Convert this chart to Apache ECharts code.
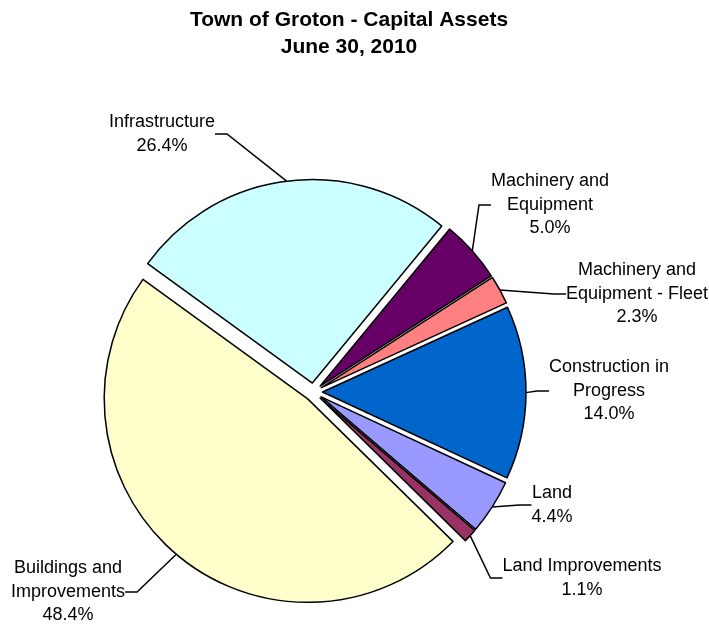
<!DOCTYPE html>
<html>
<head>
<meta charset="utf-8">
<script src="https://cdn.jsdelivr.net/npm/echarts@6/dist/echarts.min.js"></script>
<style>
  html, body { margin: 0; padding: 0; background: #fff; }
  #main { width: 709px; height: 626px; }
</style>
</head>
<body>
<div id="main"></div>
<script>
// slices in clockwise order
var categories = [
    'Machinery and\nEquipment',
    'Machinery and\nEquipment - Fleet',
    'Construction in\nProgress',
    'Land',
    'Land Improvements',
    'Buildings and\nImprovements',
    'Infrastructure'
];
var shares = [5.0, 2.3, 14.0, 4.4, 1.1, 48.4, 26.4];
var colors = ['#660066', '#ff8080', '#0066cc', '#9999ff', '#993366', '#ffffcc', '#ccffff'];

// label box centres (px), same order as categories
var labelPos = [
    [550, 205],
    [637, 294],
    [609, 391],
    [552, 505],
    [582, 578],
    [68, 592],
    [162, 134]
];

var FONT = '"Liberation Sans", Arial, sans-serif';
var CENTER = [313.5, 392];
var R = 203.5;
var EXPLODE = 9;
var START = 50.5;

var chart = echarts.init(document.getElementById('main'));

var sliceData = [];
var labelData = [];
for (var i = 0; i < categories.length; i++) {
    sliceData.push({
        name: categories[i],
        value: shares[i],
        selected: true,
        itemStyle: {color: colors[i]}
    });
    labelData.push({name: categories[i], value: shares[i]});
}

var option = {
    backgroundColor: '#fff',
    animation: false,
    title: {
        text: 'Town of Groton - Capital Assets\nJune 30, 2010',
        left: 349,
        top: 7,
        padding: 0,
        textAlign: 'center',
        textStyle: {
            color: '#000',
            fontFamily: FONT,
            fontSize: 21,
            fontWeight: 'bold',
            lineHeight: 27
        }
    },
    series: [{
        // exploded slices
        type: 'pie',
        center: CENTER,
        radius: R,
        startAngle: START,
        clockwise: true,
        selectedMode: 'multiple',
        selectedOffset: EXPLODE,
        itemStyle: {borderColor: '#000', borderWidth: 1.5},
        select: {itemStyle: {borderColor: '#000', borderWidth: 1.5}},
        emphasis: {disabled: true},
        label: {show: false},
        labelLine: {show: false},
        data: sliceData
    }, {
        // labels + leader lines, anchored on the exploded rim
        type: 'pie',
        center: CENTER,
        radius: R + EXPLODE,
        startAngle: START,
        clockwise: true,
        selectedMode: false,
        silent: true,
        avoidLabelOverlap: false,
        itemStyle: {color: 'rgba(0,0,0,0)', borderWidth: 0},
        emphasis: {disabled: true},
        label: {
            position: 'outside',
            color: '#000',
            fontFamily: FONT,
            fontSize: 18,
            lineHeight: 23.5,
            align: 'center',
            formatter: function (p) {
                return p.name + '\n' + p.value.toFixed(1) + '%';
            }
        },
        labelLine: {
            show: true,
            length: 10,
            length2: 12,
            minTurnAngle: 0,
            lineStyle: {color: '#000', width: 1.5}
        },
        labelLayout: function (p) {
            var pos = labelPos[p.dataIndex];
            return {
                x: pos[0],
                y: pos[1],
                align: 'center',
                verticalAlign: 'middle'
            };
        },
        data: labelData
    }]
};
chart.setOption(option);
</script>
</body>
</html>
